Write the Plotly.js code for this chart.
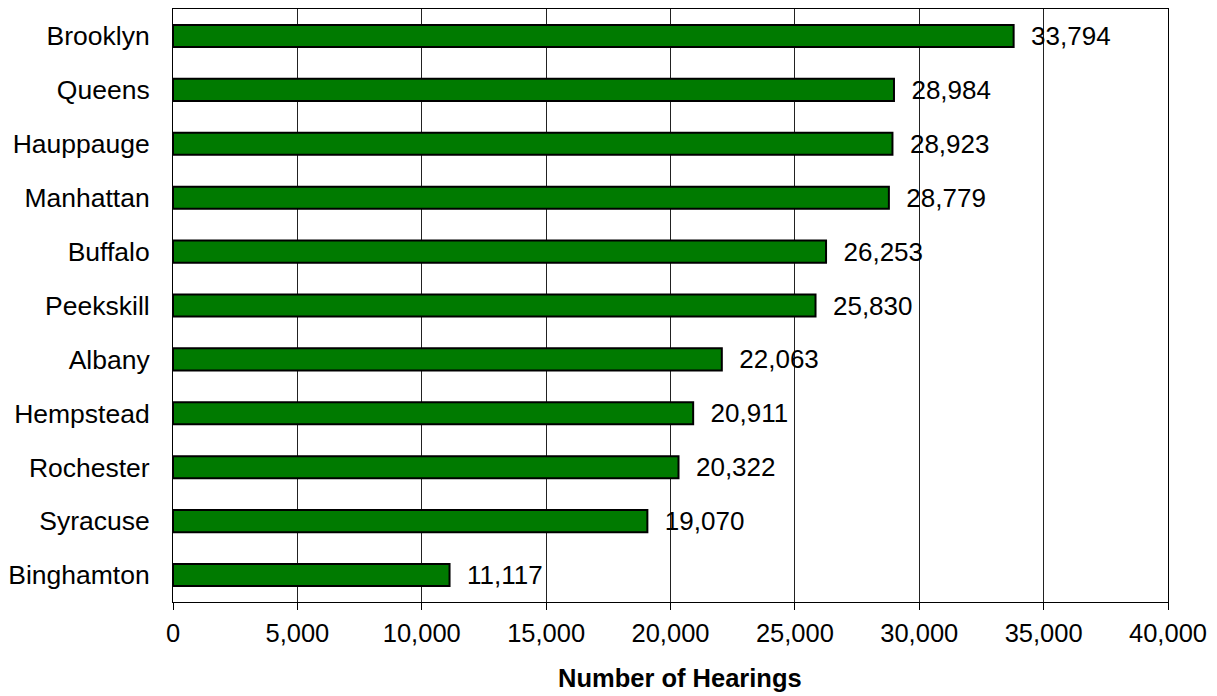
<!DOCTYPE html>
<html>
<head>
<meta charset="utf-8">
<script src="https://cdn.plot.ly/plotly-3.0.1.min.js"></script>
<style>html,body{margin:0;padding:0;background:#fff;}#chart{width:1217px;height:696px;}</style>
</head>
<body>
<div id="chart"></div>
<script>
const categories = ["Brooklyn","Queens","Hauppauge","Manhattan","Buffalo","Peekskill","Albany","Hempstead","Rochester","Syracuse","Binghamton"];
const hearings = [33794,28984,28923,28779,26253,25830,22063,20911,20322,19070,11117];
const xTickVals = [0,5000,10000,15000,20000,25000,30000,35000,40000];
const xTickText = ["0","5,000","10,000","15,000","20,000","25,000","30,000","35,000","40,000"];
const xTitle = "Number of Hearings";

const FONT = "Liberation Sans, Arial, sans-serif";
const trace = {
  type: "bar",
  orientation: "h",
  x: hearings,
  y: categories,
  marker: {color: "#007A00", line: {color: "#000000", width: 2}},
  text: hearings.map(v => "\u00a0\u00a0" + v.toLocaleString("en-US")),
  textposition: "outside",
  constraintext: "none",
  cliponaxis: false,
  textfont: {family: FONT, size: 26, color: "#000"},
  hoverinfo: "x+y"
};
const layout = {
  width: 1217, height: 696,
  margin: {l: 173, r: 49, t: 9, b: 94},
  paper_bgcolor: "#fff", plot_bgcolor: "#fff",
  showlegend: false,
  bargap: 0.59,
  font: {family: FONT, size: 26, color: "#000"},
  xaxis: {
    range: [0, 40000],
    tickvals: xTickVals, ticktext: xTickText,
    showgrid: true, gridcolor: "#222", gridwidth: 1,
    zeroline: false,
    showline: true, linecolor: "#000", linewidth: 1, mirror: true,
    ticks: "outside", ticklen: 7, tickcolor: "#000",
    ticklabelstandoff: 1,
    tickfont: {family: FONT, size: 25.5, color: "#000"},
    fixedrange: true
  },
  yaxis: {
    categoryorder: "array", categoryarray: categories,
    autorange: "reversed",
    showline: true, linecolor: "#000", linewidth: 1, mirror: true,
    showgrid: false, zeroline: false,
    ticks: "", ticklabelstandoff: 17,
    tickfont: {family: FONT, size: 26.5, color: "#000"},
    fixedrange: true
  },
  annotations: [{
    text: "<b>" + xTitle + "</b>",
    xref: "paper", yref: "paper", x: 0.5095, y: 0,
    xanchor: "center", yanchor: "top", yshift: -60,
    showarrow: false,
    font: {family: FONT, size: 25.5, color: "#000"}
  }]
};
Plotly.newPlot("chart", [trace], layout, {displayModeBar: false, staticPlot: true});
</script>
</body>
</html>
